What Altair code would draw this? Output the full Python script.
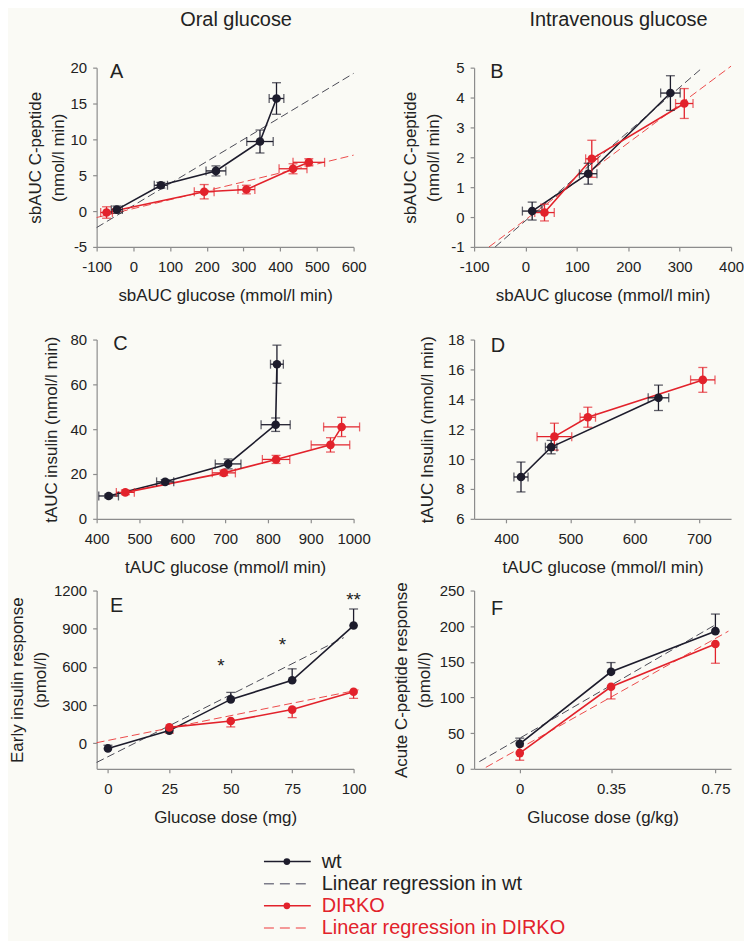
import altair as alt
import pandas as pd

BLACK = "#1d1c2c"
RED = "#e2222b"
REG_WT = "#4a4a55"
REG_KO = "#ec4a4a"
LEG_REG_WT = "#7c7c8a"
LEG_REG_KO = "#f27a7a"
TXT = "#222222"
AXC = "#8c8c8c"
BG = "#fafaf5"
FONT = "Liberation Sans"

# ---------------- Panel A: oral glucose, sbAUC
a_wt_x = [-45, 75, 225, 345, 390]
a_wt_xerr = [15, 18, 27, 36, 20]
a_wt_y = [0.2, 3.6, 5.6, 9.7, 15.7]
a_wt_yerr = [0.5, 0.4, 0.7, 1.6, 2.2]
a_ko_x = [-73, 193, 308, 435, 478]
a_ko_xerr = [16, 27, 23, 38, 43]
a_ko_y = [-0.2, 2.7, 3.0, 5.9, 6.8]
a_ko_yerr = [0.8, 1.0, 0.6, 0.7, 0.5]
a_reg_wt_x = [-100, 600]
a_reg_wt_y = [-2.3, 19.2]
a_reg_ko_x = [-100, 600]
a_reg_ko_y = [-0.9, 7.8]

# ---------------- Panel B: intravenous glucose, sbAUC
b_wt_x = [13, 122, 282]
b_wt_xerr = [19, 17, 19]
b_wt_y = [0.2, 1.45, 4.15]
b_wt_yerr = [0.3, 0.35, 0.58]
b_ko_x = [37, 129, 309]
b_ko_xerr = [19, 12, 17]
b_ko_y = [0.15, 1.95, 3.8]
b_ko_yerr = [0.28, 0.62, 0.5]
b_reg_wt_x = [-59, 341]
b_reg_wt_y = [-1, 4.95]
b_reg_ko_x = [-71, 400]
b_reg_ko_y = [-1, 5.05]

# ---------------- Panel C: oral glucose, tAUC
c_wt_x = [428, 560, 707, 818, 821]
c_wt_xerr = [23, 20, 30, 34, 15]
c_wt_y = [10.2, 16.5, 24.5, 42, 69]
c_wt_yerr = [0.8, 1.0, 2.2, 3.0, 8.5]
c_ko_x = [467, 697, 819, 946, 972]
c_ko_xerr = [21, 27, 32, 45, 42]
c_ko_y = [11.8, 20.5, 26.5, 33, 41]
c_ko_yerr = [1.0, 1.2, 1.8, 3.2, 4.3]

# ---------------- Panel D: intravenous glucose, tAUC
d_wt_x = [423, 470, 637]
d_wt_xerr = [11, 9, 16]
d_wt_y = [8.8, 10.8, 14.1]
d_wt_yerr = [1.0, 0.45, 0.85]
d_ko_x = [475, 527, 706]
d_ko_xerr = [27, 12, 19]
d_ko_y = [11.5, 12.8, 15.3]
d_ko_yerr = [0.9, 0.67, 0.83]

# ---------------- Panel E: early insulin response vs dose
e_wt_x = [0, 25, 50, 75, 100]
e_wt_y = [-40, 100, 345, 495, 925]
e_wt_err = [25, 20, 55, 90, 130]
e_ko_x = [25, 50, 75, 100]
e_ko_y = [125, 175, 265, 405]
e_ko_err = [45, 46, 63, 52]
e_reg_wt_x = [-4.6, 96]
e_reg_wt_y = [-150, 830]
e_reg_ko_x = [-4.6, 102]
e_reg_ko_y = [5, 420]
e_star_x = [46, 71, 100]
e_star_y = [650, 808, 1162]
e_star_txt = ["*", "*", "**"]

# ---------------- Panel F: acute C-peptide response vs dose
f_x = [0, 0.35, 0.75]
f_wt_y = [35, 136, 193]
f_wt_err = [8, 13, 24]
f_ko_y = [22, 115, 175]
f_ko_err = [10, 17, 27]
f_reg_wt_x = [-0.155, 0.75]
f_reg_wt_y = [10, 202]
f_reg_ko_x = [-0.13, 0.80]
f_reg_ko_y = [2, 193]

leg_labels = ["wt", "Linear regression in wt", "DIRKO", "Linear regression in DIRKO"]


def series(grp, xs, ys, yerr, xerr=None, side="both"):
    rows = []
    for i, (x, y, ye) in enumerate(zip(xs, ys, yerr)):
        xe = xerr[i] if xerr else 0
        lo = y - ye if side in ("both", "down") else y
        hi = y + ye if side in ("both", "up") else y
        rows.append(dict(grp=grp, ord=i, x=x, y=y, xlo=x - xe, xhi=x + xe, ylo=lo, yhi=hi))
    return pd.DataFrame(rows)


def ycaps(df):
    recs = []
    for r in df.itertuples():
        for v in (r.ylo, r.yhi):
            if v != r.y:
                recs.append(dict(grp=r.grp, x=r.x, y=v))
    return pd.DataFrame(recs)


def xcaps(df):
    recs = []
    for r in df.itertuples():
        for v in (r.xlo, r.xhi):
            if v != r.x:
                recs.append(dict(grp=r.grp, x=v, y=r.y))
    return pd.DataFrame(recs)


def panel(df, regs, xdom, ydom, xticks, yticks, xtitle, ytitle, ytpad, letter, lx, ly,
          title=None, tdx=0, stars=None, w=258, h=180, has_xerr=True):
    xs = alt.Scale(domain=xdom, nice=False, zero=False)
    ys = alt.Scale(domain=ydom, nice=False, zero=False)
    xa = alt.Axis(values=xticks, title=xtitle, labelExpr="toString(datum.value)")
    ya = alt.Axis(values=yticks, title=ytitle, titlePadding=ytpad, labelExpr="toString(datum.value)")

    def X(f):
        return alt.X(f, scale=xs, axis=xa)

    def Y(f):
        return alt.Y(f, scale=ys, axis=ya)

    color = alt.Color("grp:N", scale=alt.Scale(domain=["wt", "DIRKO"], range=[BLACK, RED]), legend=None)
    layers = []
    for rx, ry, c in regs:
        rdf = pd.DataFrame({"x": rx, "y": ry})
        layers.append(alt.Chart(rdf).mark_line(strokeDash=[8, 4], strokeWidth=1, color=c)
                      .encode(x=X("x:Q"), y=Y("y:Q")))
    base = alt.Chart(df)
    layers.append(base.mark_line(strokeWidth=1.6).encode(x=X("x:Q"), y=Y("y:Q"), color=color, order="ord:Q"))
    layers.append(base.mark_rule(strokeWidth=1.3).encode(x=X("x:Q"), y=Y("ylo:Q"), y2="yhi:Q", color=color))
    layers.append(alt.Chart(ycaps(df)).mark_tick(orient="horizontal", size=9, thickness=1.3)
                  .encode(x=X("x:Q"), y=Y("y:Q"), color=color))
    if has_xerr:
        layers.append(base.mark_rule(strokeWidth=1.3).encode(x=X("xlo:Q"), x2="xhi:Q", y=Y("y:Q"), color=color))
        layers.append(alt.Chart(xcaps(df)).mark_tick(orient="vertical", size=9, thickness=1.3)
                      .encode(x=X("x:Q"), y=Y("y:Q"), color=color))
    layers.append(base.mark_circle(size=75, opacity=1).encode(x=X("x:Q"), y=Y("y:Q"), color=color))
    if stars is not None:
        sdf = pd.DataFrame({"x": stars[0], "y": stars[1], "t": stars[2]})
        layers.append(alt.Chart(sdf).mark_text(fontSize=19, font=FONT, color=TXT, dy=5)
                      .encode(x=X("x:Q"), y=Y("y:Q"), text="t:N"))
    layers.append(alt.Chart(pd.DataFrame({"t": [letter]}))
                  .mark_text(fontSize=20, font=FONT, color=TXT, align="center", baseline="middle")
                  .encode(x=alt.value(lx), y=alt.value(ly), text="t:N"))
    ch = alt.layer(*layers).properties(width=w, height=h)
    if title:
        ch = ch.properties(title=alt.TitleParams(title, fontSize=20, font=FONT, fontWeight="normal",
                                                 color=TXT, frame="group", anchor="middle",
                                                 offset=31, dx=tdx))
    return ch


dfA = pd.concat([series("wt", a_wt_x, a_wt_y, a_wt_yerr, a_wt_xerr),
                 series("DIRKO", a_ko_x, a_ko_y, a_ko_yerr, a_ko_xerr)])
dfB = pd.concat([series("wt", b_wt_x, b_wt_y, b_wt_yerr, b_wt_xerr),
                 series("DIRKO", b_ko_x, b_ko_y, b_ko_yerr, b_ko_xerr)])
dfC = pd.concat([series("wt", c_wt_x, c_wt_y, c_wt_yerr, c_wt_xerr),
                 series("DIRKO", c_ko_x, c_ko_y, c_ko_yerr, c_ko_xerr)])
dfD = pd.concat([series("wt", d_wt_x, d_wt_y, d_wt_yerr, d_wt_xerr),
                 series("DIRKO", d_ko_x, d_ko_y, d_ko_yerr, d_ko_xerr)])
dfE = pd.concat([series("wt", e_wt_x, e_wt_y, e_wt_err, side="up"),
                 series("DIRKO", e_ko_x, e_ko_y, e_ko_err, side="down")])
dfF = pd.concat([series("wt", f_x, f_wt_y, f_wt_err, side="up"),
                 series("DIRKO", f_x, f_ko_y, f_ko_err, side="down")])

pA = panel(dfA, [(a_reg_wt_x, a_reg_wt_y, REG_WT), (a_reg_ko_x, a_reg_ko_y, REG_KO)],
           [-100, 600], [-5, 20], list(range(-100, 601, 100)), [-5, 0, 5, 10, 15, 20],
           "sbAUC glucose (mmol/l min)", ["sbAUC C-peptide", "(nmol/l min)"], 3,
           "A", 20, 4, title="Oral glucose", tdx=11)
pB = panel(dfB, [(b_reg_wt_x, b_reg_wt_y, REG_WT), (b_reg_ko_x, b_reg_ko_y, REG_KO)],
           [-100, 400], [-1, 5], list(range(-100, 401, 100)), [-1, 0, 1, 2, 3, 4, 5],
           "sbAUC glucose (mmol/l min)", ["sbAUC C-peptide", "(nmol/l min)"], 8,
           "B", 23, 4, title="Intravenous glucose", tdx=16)
pC = panel(dfC, [], [400, 1000], [0, 80], list(range(400, 1001, 100)), [0, 20, 40, 60, 80],
           "tAUC glucose (mmol/l min)", "tAUC insulin (nmol/l min)", 10, "C", 24, 4)
pD = panel(dfD, [], [350, 750], [6, 18], [400, 500, 600, 700], [6, 8, 10, 12, 14, 16, 18],
           "tAUC glucose (mmol/l min)", "tAUC Insulin (nmol/l min)", 11, "D", 24, 6)
pE = panel(dfE, [(e_reg_wt_x, e_reg_wt_y, REG_WT), (e_reg_ko_x, e_reg_ko_y, REG_KO)],
           [-4.6, 100], [-200, 1200], [0, 25, 50, 75, 100], [0, 300, 600, 900, 1200],
           "Glucose dose (mg)", ["Early insulin response", "(pmol/l)"], 4, "E", 20, 16,
           stars=(e_star_x, e_star_y, e_star_txt), h=179, has_xerr=False)
pF = panel(dfF, [(f_reg_wt_x, f_reg_wt_y, REG_WT), (f_reg_ko_x, f_reg_ko_y, REG_KO)],
           [-0.175, 0.81], [0, 250], [0, 0.35, 0.75], [0, 50, 100, 150, 200, 250],
           "Glucose dose (g/kg)", ["Acute C-peptide response", "(pmol/l)"], 6, "F", 23, 19,
           h=179, has_xerr=False)


def spacer(h):
    return (alt.Chart(pd.DataFrame({"v": [0]})).mark_point(opacity=0)
            .encode(x=alt.X("v:Q", axis=None), y=alt.Y("v:Q", axis=None))
            .properties(width=258, height=h))


leg_df = pd.DataFrame({"label": leg_labels, "dot": [1, 0, 1, 0]})
lyenc = alt.Y("label:N", sort=leg_labels, axis=None, scale=alt.Scale(type="point", padding=0.5))
lcol = alt.Color("label:N", scale=alt.Scale(domain=leg_labels, range=[BLACK, LEG_REG_WT, RED, LEG_REG_KO]),
                 legend=None)
ltcol = alt.Color("label:N", scale=alt.Scale(domain=leg_labels, range=[TXT, TXT, RED, RED]), legend=None)
ldash = alt.StrokeDash("label:N", scale=alt.Scale(domain=leg_labels, range=[[1, 0], [10, 6], [1, 0], [10, 6]]),
                       legend=None)
sym = alt.Chart(leg_df).mark_rule(strokeWidth=1.5).encode(
    x=alt.value(168), x2=alt.value(215), y=lyenc, color=lcol, strokeDash=ldash)
dot = alt.Chart(leg_df).transform_filter("datum.dot == 1").mark_circle(size=45, opacity=1).encode(
    x=alt.value(191), y=lyenc, color=lcol)
txt = alt.Chart(leg_df).mark_text(align="left", baseline="middle", fontSize=20, font=FONT).encode(
    x=alt.value(226), y=lyenc, text="label:N", color=ltcol)
legend = alt.layer(sym, dot, txt).resolve_scale(color="independent").properties(width=258, height=89)

chart = alt.concat(
    pA, pB, spacer(93), spacer(93), pC, pD, spacer(72), spacer(72), pE, pF, spacer(82), spacer(82), legend,
    columns=2, spacing={"row": 0, "column": 121}, bounds="flush"
).properties(padding=0).configure(background=BG, font=FONT).configure_view(stroke=None).configure_axis(
    domainColor=AXC, tickColor=AXC, tickSize=4, domainWidth=1.2, tickWidth=1.2,
    labelFont=FONT, labelFontSize=15, labelColor=TXT, labelFlush=False,
    titleFont=FONT, titleFontSize=17, titleFontWeight="normal", titleColor=TXT,
    titleLineHeight=23, grid=False
).configure_axisX(labelPadding=9, titlePadding=13).configure_axisY(labelPadding=6)

chart.save("out.html", embed_options={"renderer": "svg", "actions": False})
